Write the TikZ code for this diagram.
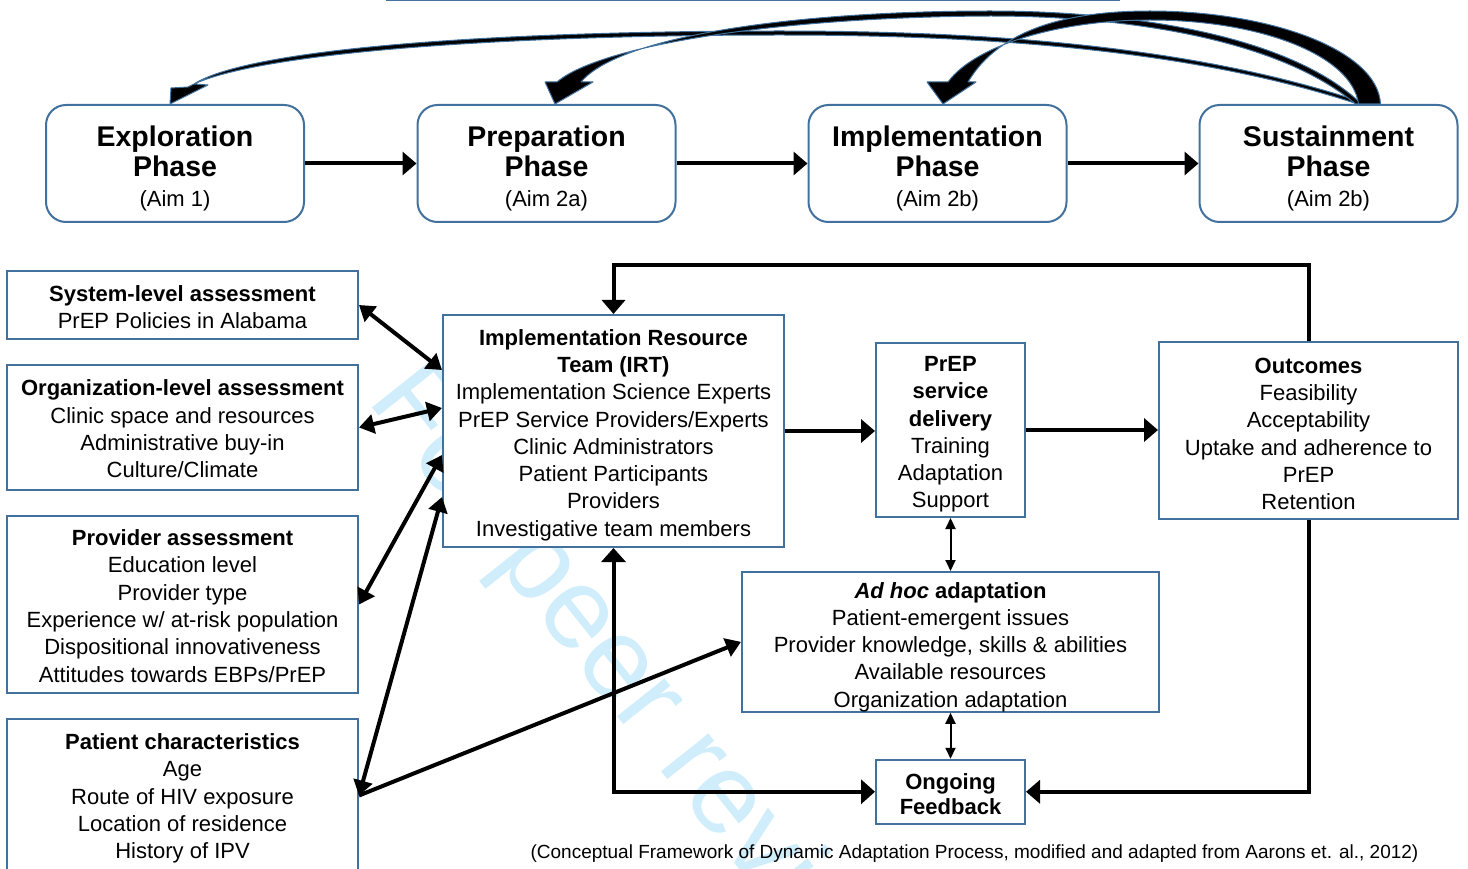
\documentclass[tikz,border=0pt]{standalone}
\usepackage{fontspec}
\setmainfont{Liberation Sans}
\usetikzlibrary{arrows.meta,positioning,calc}
\definecolor{boxblue}{RGB}{65,113,156}
\definecolor{wmark}{RGB}{208,237,252}
\newcommand{\bodyfont}{\fontsize{22}{27.3}\selectfont}
\newcommand{\phasefont}{\bfseries\fontsize{28.5}{31}\selectfont}
\newcommand{\headroom}[1]{\rule{0pt}{#1pt}}
\tikzset{
    phasebox/.style={draw=boxblue, line width=2pt, fill=white, rounded corners=20pt, minimum width=258pt, minimum height=117pt, align=center, inner sep=0pt, font=\fontsize{22}{30}\selectfont},
    factorbox/.style={draw=boxblue, line width=2pt, fill=white, align=center, inner sep=0pt, font=\bodyfont},
    heavy/.style={line width=4pt, -{Triangle[length=14pt,width=23pt]}},
    both heavy/.style={line width=4pt, {Triangle[length=14pt,width=24pt]}-{Triangle[length=14pt,width=24pt]}},
    link/.style={line width=4pt, {Triangle[length=15pt,width=19pt]}-{Triangle[length=15pt,width=19pt]}},
    linkto/.style={line width=4pt, -{Triangle[length=15pt,width=19pt]}},
    fine/.style={line width=2pt, {Triangle[length=11pt,width=10pt]}-{Triangle[length=11pt,width=10pt]}},
    bentarrow/.style={fill=black, draw=boxblue, line width=1pt, line join=round}
}

\begin{document}
\begin{tikzpicture}[x=1pt, y=-1pt]
    \useasboundingbox (0,0) rectangle (1468,869);
    \clip (0,0) rectangle (1468,869);
    % watermark
    \node[font=\fontsize{115}{115}\selectfont, text=wmark, rotate=-51.5, anchor=base west, inner sep=0pt] (wm) at (366,400) {For peer review};
    \draw[boxblue, line width=3pt] (386,0) -- (1120,0);

    % phases
    \node[phasebox] (expl) at (175,163.5) {{\phasefont\headroom{30}Exploration}\\{\phasefont Phase}\\(Aim 1)};
    \node[phasebox] (prep) at (546.5,163.5) {{\phasefont\headroom{30}Preparation}\\{\phasefont Phase}\\(Aim 2a)};
    \node[phasebox] (impl) at (937.5,163.5) {{\phasefont\headroom{30}Implementation}\\{\phasefont Phase}\\(Aim 2b)};
    \node[phasebox] (sust) at (1328.5,163.5) {{\phasefont\headroom{30}Sustainment}\\{\phasefont Phase}\\(Aim 2b)};

    \draw[heavy] (expl) -- (prep);
    \draw[heavy] (prep) -- (impl);
    \draw[heavy] (impl) -- (sust);

    \coordinate (tipE) at ([xshift=-5pt]expl.north);
    \coordinate (tipP) at ([xshift=8.5pt]prep.north);
    \coordinate (tipI) at ([xshift=5.5pt]impl.north);
    \filldraw[bentarrow] ($(sust.north)+(33,-2)$) .. controls (1200,48) and (1000,31) .. (780,31) .. controls (500,31) and (250,48) .. ($(tipE)+(24,-20)$) -- ++(14,1) -- (tipE) -- ++(1,-16) -- ++(17,-1) .. controls (250,53) and (500,35) .. (780,35) .. controls (1000,35) and (1200,52) .. ($(sust.north)+(29,0)$) -- cycle;
    \filldraw[bentarrow] ($(sust.north)+(33,0)$) .. controls (1290,35) and (1130,11) .. (990,11) .. controls (800,11) and (620,35) .. ($(tipP)+(26,-22)$) -- ++(12,0) -- (tipP) -- ++(-10,-22) -- ++(12,0) .. controls (600,45) and (780,17) .. (990,16) .. controls (1130,16) and (1280,40) .. ($(sust.north)+(27,0)$) -- cycle;
    \filldraw[bentarrow] ($(sust.north)+(52,0)$) .. controls (1378,50) and (1270,11) .. (1150,11) .. controls (1070,11) and (1000,28) .. ($(tipI)+(25,-22)$) -- ++(8,0) -- (tipI) -- ++(-16,-22) -- ++(21,0) .. controls (975,45) and (1060,20) .. (1150,20) .. controls (1260,20) and (1352,55) .. ($(sust.north)+(30,0)$) -- cycle;

    % assessments
    \node[factorbox, minimum width=351pt, minimum height=68pt] (sys) at (182.5,305) {\headroom{20}\textbf{System-level assessment}\\PrEP Policies in Alabama};
    \node[factorbox, minimum width=351pt, minimum height=125pt, below=24pt of sys] (org) {\headroom{19}\textbf{Organization-level assessment}\\Clinic space and resources\\Administrative buy-in\\Culture/Climate};
    \node[factorbox, minimum width=351pt, minimum height=177pt, below=24pt of org] (prov) {\headroom{19}\textbf{Provider assessment}\\Education level\\Provider type\\Experience w/ at-risk population\\Dispositional innovativeness\\Attitudes towards EBPs/PrEP};
    \node[factorbox, minimum width=351pt, minimum height=153pt, below=24pt of prov] (pat) {\headroom{22}\textbf{Patient characteristics}\\Age\\Route of HIV exposure\\Location of residence\\History of IPV};

    \node[factorbox, minimum width=341pt, minimum height=232pt] (irt) at (613.5,431) {\headroom{24}\textbf{Implementation Resource}\\\textbf{Team (IRT)}\\Implementation Science Experts\\PrEP Service Providers/Experts\\Clinic Administrators\\Patient Participants\\Providers\\Investigative team members};
    \node[factorbox, minimum width=149pt, minimum height=174pt] (deliv) at (950.5,430) {\headroom{24}\textbf{PrEP}\\\textbf{service}\\\textbf{delivery}\\Training\\Adaptation\\Support};
    \node[factorbox, minimum width=299pt, minimum height=177pt] (outc) at (1308.5,430.5) {\headroom{22}\textbf{Outcomes}\\Feasibility\\Acceptability\\Uptake and adherence to\\PrEP\\Retention};
    \node[factorbox, minimum width=417pt, minimum height=139pt, below=53pt of deliv] (adhoc) {\headroom{26}\textbf{\textit{Ad hoc} adaptation}\\Patient-emergent issues\\Provider knowledge, skills \& abilities\\Available resources\\Organization adaptation};
    \node[factorbox, minimum width=149pt, minimum height=64pt, below=46pt of adhoc, font=\bfseries\fontsize{22}{25}\selectfont] (fb) {\headroom{20}Ongoing\\Feedback};

    \node[font=\fontsize{19}{22}\selectfont] (caption) at (974.5,853.5) {(Conceptual Framework of Dynamic Adaptation Process, modified and adapted from Aarons et. al., 2012)};

    % connectors
    \draw[link] (sys.east) -- ([yshift=61pt]irt.west);
    \draw[link] (org.east) -- ([yshift=23pt]irt.west);
    \draw[link] (prov.east) -- ([yshift=-24pt]irt.west);
    \draw[link] (pat.east) -- ([yshift=-66pt]irt.west);
    \draw[linkto] (pat.east) -- (adhoc.west);

    \draw[heavy] (irt.east) -- (irt.east -| deliv.west);
    \draw[heavy] (deliv.east) -- (deliv.east -| outc.west);
    \coordinate (looptop) at (613.5,265);
    \draw[heavy] (outc.north) |- (looptop) -- (irt.north);
    \draw[heavy] (outc.south) |- (fb.east);
    \draw[both heavy] (irt.south) |- (fb.west);
    \draw[fine] (deliv.south) -- (adhoc.north);
    \draw[fine] (adhoc.south) -- (fb.north);
\end{tikzpicture}
\end{document}
